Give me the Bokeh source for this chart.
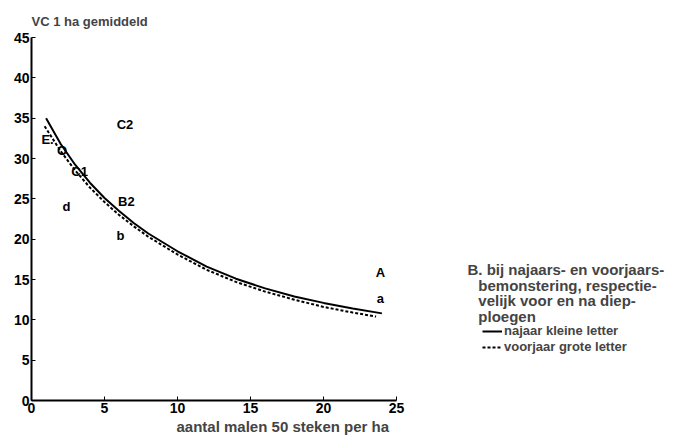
from bokeh.plotting import figure
from bokeh.models import Range1d, FixedTicker, ColumnDataSource, Legend, LegendItem, Label, Title
from bokeh.embed import file_html
from bokeh.resources import INLINE
from bokeh.core.properties import value

# najaar (solid) curve
x_najaar = [1, 2, 3, 4, 5, 6, 7, 8, 10, 12, 14, 16, 18, 20, 22, 24]
y_najaar = [35.0, 31.8, 29.2, 27.0, 25.1, 23.5, 22.0, 20.7, 18.5, 16.6, 15.1, 13.9, 12.9, 12.1, 11.4, 10.8]
# voorjaar (dashed) curve
x_voorjaar = [0.9, 2, 3, 4, 5, 6, 7, 8, 10, 12, 14, 16, 18, 20, 22, 23.6]
y_voorjaar = [34.0, 30.9, 28.5, 26.4, 24.6, 23.0, 21.6, 20.3, 18.1, 16.2, 14.7, 13.5, 12.5, 11.6, 10.9, 10.4]

# letter labels of the observations
pt_text = ["C2", "E.", "O", "C1", "d", "B2", "b", "A", "a"]
pt_x = [6.4, 1.1, 2.1, 3.3, 2.4, 6.5, 6.1, 23.9, 23.9]
pt_y = [34.2, 32.3, 31.0, 28.4, 24.0, 24.7, 20.5, 15.9, 12.6]

x_ticks = [0, 5, 10, 15, 20, 25]
y_ticks = [0, 5, 10, 15, 20, 25, 30, 35, 40, 45]

title_text = "VC 1 ha gemiddeld"
x_title = "aantal malen 50 steken per ha"
note_lines = ["B. bij najaars- en voorjaars-", "bemonstering, respectie-",
              "velijk voor en na diep-", "ploegen"]
legend_labels = ["najaar kleine letter", "voorjaar grote letter"]

FONT = "Liberation Sans"

p = figure(width=679, height=446, output_backend="svg", toolbar_location=None,
           x_range=Range1d(0, 44.38), y_range=Range1d(0, 45),
           min_border_left=31, min_border_right=0, min_border_top=37, min_border_bottom=46)
p.outline_line_color = None
p.grid.visible = False
p.background_fill_color = "white"

p.title.text = title_text
p.title.text_font = FONT
p.title.text_font_style = "bold"
p.title.text_font_size = "13px"
p.title.align = "left"
p.title.standoff = 17

for ax in (p.xaxis[0], p.yaxis[0]):
    ax.major_label_text_font = FONT
    ax.major_label_text_font_style = "bold"
    ax.major_label_text_font_size = "14px"
    ax.major_label_text_color = "black"
    ax.axis_line_width = 2
    ax.major_tick_in = 4
    ax.major_tick_out = 0
    ax.minor_tick_in = 0
    ax.minor_tick_out = 0
    ax.major_label_standoff = 2

p.xaxis.ticker = FixedTicker(ticks=x_ticks)
p.yaxis.ticker = FixedTicker(ticks=y_ticks)
p.xaxis.bounds = (0, 25)
p.yaxis.bounds = (0, 45)

p.add_layout(Title(text=x_title, text_font=FONT, text_font_style="bold",
                   text_font_size="15px", align="left", offset=145, standoff=0), "below")

r1 = p.line(x_najaar, y_najaar, line_color="black", line_width=2)
r2 = p.line(x_voorjaar, y_voorjaar, line_color="black", line_width=2, line_dash="3 2")

src = ColumnDataSource(dict(x=pt_x, y=pt_y, t=pt_text))
p.text("x", "y", text="t", source=src, text_font=value(FONT), text_font_style="bold",
       text_font_size="13px", text_align="center", text_baseline="middle", text_color="black")

note_x = [29.86, 30.6, 30.6, 30.6]
note_y = [16.3, 14.2, 12.35, 10.4]
for t, nx, ny in zip(note_lines, note_x, note_y):
    p.add_layout(Label(x=nx, y=ny, text=t, text_font=FONT, text_font_style="bold",
                       text_font_size="15px", text_baseline="middle"))

legend = Legend(items=[LegendItem(label=legend_labels[0], renderers=[r1]),
                       LegendItem(label=legend_labels[1], renderers=[r2])],
                location=(451, 46), border_line_color=None, background_fill_alpha=0,
                padding=0, margin=0, spacing=1, glyph_width=20, glyph_height=12,
                label_height=12, label_standoff=2,
                label_text_font=FONT, label_text_font_style="bold", label_text_font_size="13px")
p.add_layout(legend)

open("out.html", "w").write(file_html(p, INLINE))
